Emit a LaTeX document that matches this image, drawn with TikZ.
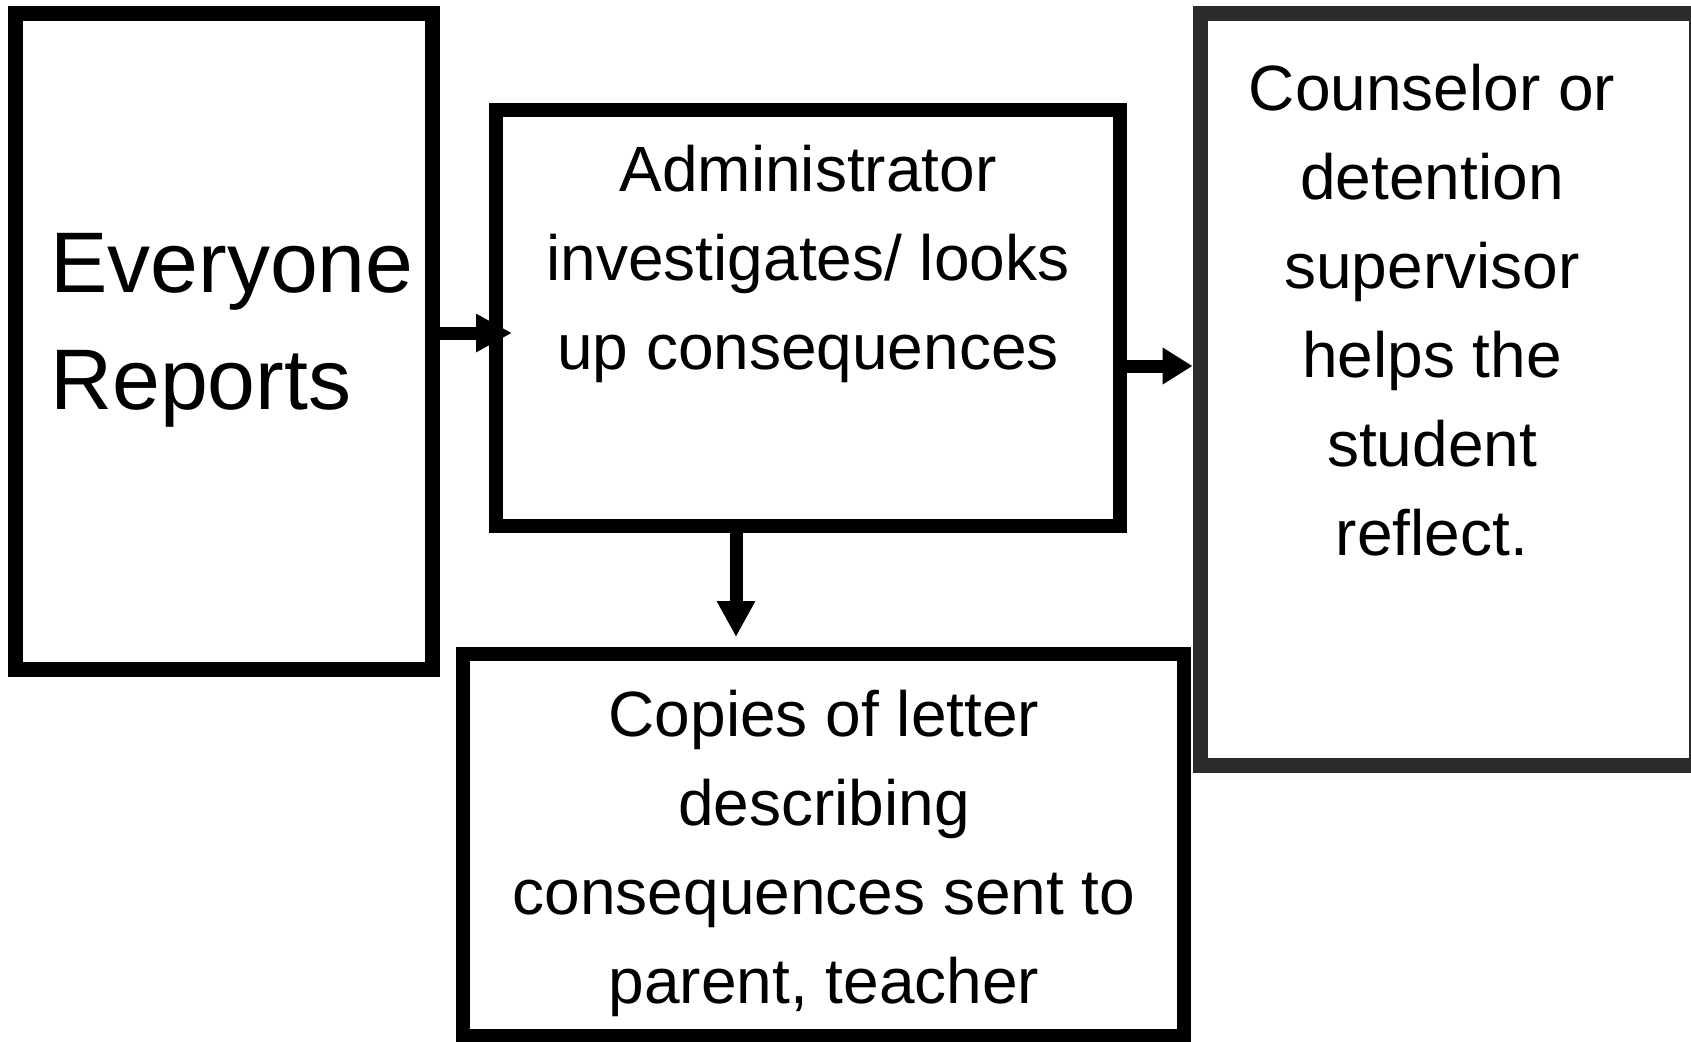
\documentclass[tikz,border=0pt]{standalone}
\usepackage{fontspec}
\setmainfont{Liberation Sans}
\usetikzlibrary{arrows.meta,calc}
\definecolor{darkframe}{HTML}{2B2B2B}
\begin{document}
\begin{tikzpicture}[x=1pt,y=-1pt,
  box/.style={draw=black,rectangle,inner sep=0pt,line width=15pt,fill=white},
  txt/.style={inner sep=0pt,align=center,font=\fontsize{64}{89}\selectfont},
  bigtxt/.style={inner sep=0pt,align=left,font=\fontsize{86}{117}\selectfont},
  conn/.style={line width=13pt,-{Triangle[length=36pt,width=36pt]}},
  connshort/.style={line width=13pt,-{Triangle[length=30pt,width=35pt]}}]
\useasboundingbox[fill=white] (0,0) rectangle (1691,1041);
% boxes
\node[box,minimum width=416.5pt,minimum height=655.5pt] (b1) at (223.75,341.75) {};
\node[box,line width=14pt,minimum width=624pt,minimum height=415.5pt] (b2) at (808,317.75) {};
\node[box,draw=darkframe,minimum width=496pt,minimum height=751pt] (b3) at (1448,389.5) {};
\node[box,line width=14pt,minimum width=721pt,minimum height=382pt] (b4) at (823.5,845) {};
% texts
\node[bigtxt,anchor=north west] (t1) at (50,233) {Everyone\\Reports};
\node[txt,anchor=north] (t2) at (808,145) {Administrator\\investigates/ looks\\up consequences};
\node[txt,anchor=north] (t3) at (1432,64) {Counselor or\\detention\\supervisor\\helps the\\student\\reflect.};
\node[txt,anchor=north] (t4) at (824,690) {Copies of letter\\describing\\consequences sent to\\parent, teacher};
% connectors
\coordinate (a1s) at ($(b1.east)+(0,-8.75)$);
\draw[conn] (a1s) -- ($(a1s -| b2.west)+(23,0)$);
\coordinate (a2s) at ($(b2.east)+(0,48.25)$);
\draw[connshort] (a2s) -- (a2s -| b3.west);
\coordinate (a3s) at ($(b2.south)+(-72,0)$);
\draw[conn] (a3s) -- ($(a3s |- b4.north)+(0,-10)$);
\end{tikzpicture}
\end{document}
